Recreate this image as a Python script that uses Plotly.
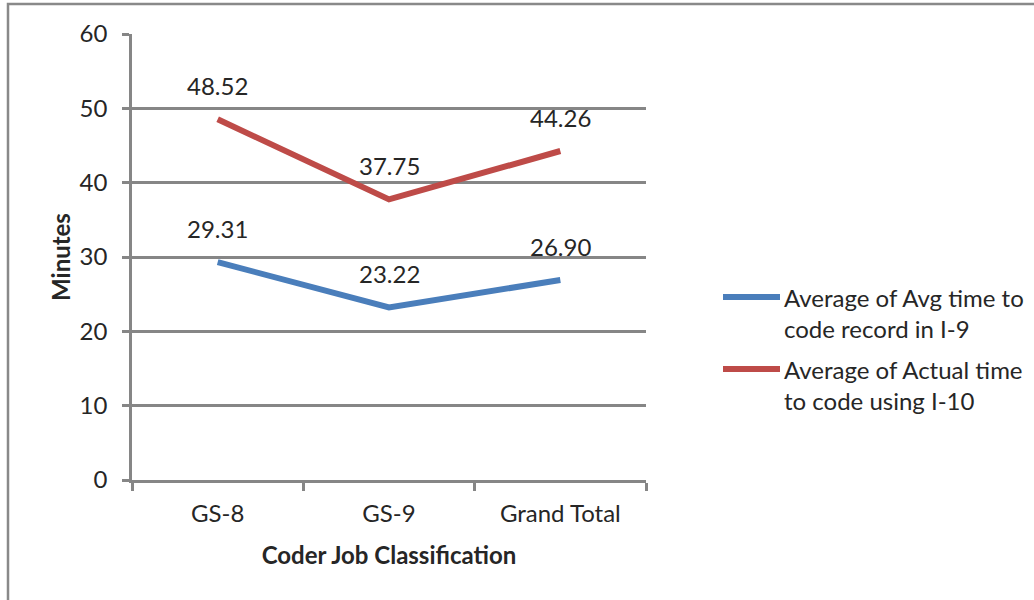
import plotly.graph_objects as go

categories = ["GS-8", "GS-9", "Grand Total"]
series_names = ["Average of Avg time to<br>code record in I-9",
                "Average of Actual time<br>to code using I-10"]
i9_values = [29.31, 23.22, 26.90]
i10_values = [48.52, 37.75, 44.26]
colors = ["#4A7EBB", "#BE4B48"]
y_ticks = [0, 10, 20, 30, 40, 50, 60]

FONT = "Lato"
FS = 24
GRAY = "#868686"
TXT = "#262626"

# plot area in pixels
PL, PT, PW, PH = 132, 34, 514, 446


def px_x(x):
    return (x - PL) / PW


def px_y(y):
    return (PT + PH - y) / PH


fig = go.Figure()
for name, vals, col in zip(series_names, [i9_values, i10_values], colors):
    fig.add_trace(go.Scatter(
        x=categories, y=vals, mode="lines", name=name, showlegend=False,
        line=dict(color=col, width=6),
    ))
    for c, v in zip(categories, vals):
        fig.add_annotation(x=c, y=v, text=f"{v:.2f}", showarrow=False,
                           yshift=34, font=dict(family=FONT, size=FS, color=TXT))

# legend (manual, Excel style: line sample aligned with first text line)
legend_first_line_y = [297, 369]
for name, col, ly in zip(series_names, colors, legend_first_line_y):
    fig.add_shape(type="line", xref="paper", yref="paper",
                  x0=px_x(723), x1=px_x(780), y0=px_y(ly), y1=px_y(ly),
                  line=dict(color=col, width=6))
    fig.add_annotation(xref="paper", yref="paper", x=px_x(782), y=px_y(ly + 16),
                       xanchor="left", yanchor="middle", align="left",
                       text=name, showarrow=False,
                       font=dict(family=FONT, size=FS, color=TXT))

fig.update_layout(
    width=1034, height=600,
    margin=dict(l=PL, r=1034 - PL - PW, t=PT, b=600 - PT - PH),
    paper_bgcolor="white", plot_bgcolor="white",
    font=dict(family=FONT, size=FS, color=TXT),
    xaxis=dict(
        type="category", range=[-0.5, 2.5],
        showgrid=False, showline=True, linecolor=GRAY, linewidth=2.5,
        ticks="outside", tickson="boundaries", ticklen=8, tickwidth=2.5, tickcolor=GRAY,
        ticklabelstandoff=10,
        title=dict(text="<b>Coder Job Classification</b>", standoff=22,
                   font=dict(family=FONT, size=FS, color=TXT)),
    ),
    yaxis=dict(
        range=[0, 60], tickvals=y_ticks,
        showgrid=True, gridcolor=GRAY, gridwidth=2.5,
        showline=True, linecolor=GRAY, linewidth=2.5,
        ticks="outside", ticklen=7, tickwidth=2.5, tickcolor=GRAY,
        ticklabelstandoff=10, zeroline=False,
        title=dict(text="<b>Minutes</b>", standoff=3,
                   font=dict(family=FONT, size=FS, color=TXT)),
    ),
    showlegend=False,
)

fig.add_shape(type="rect", xref="paper", yref="paper",
              x0=px_x(8), x1=px_x(1060),
              y0=px_y(640), y1=px_y(4),
              line=dict(color="#898989", width=2.5), fillcolor="rgba(0,0,0,0)", layer="below")

fig.write_html("out.html", config={"displayModeBar": False},
               post_script="document.body.style.margin='0';")
